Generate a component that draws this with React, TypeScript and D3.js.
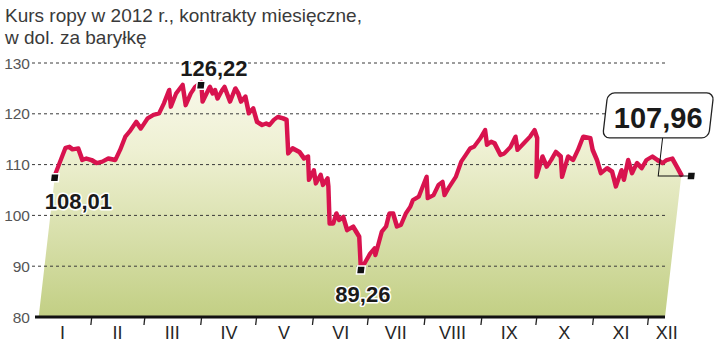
import React from 'react';
import * as d3 from 'd3';

// Brent monthly contract, 2012 (USD per barrel); day = days after 1 Jan 2012
const dayOfYear = [2,6,8,10,13,16,18,21,24,27,30,34,36,38,40,43,46,49,52,55,57,59,61,63,66,69,71,73,76,78,81,83,84,86,88,89,93,95,97,99,101,104,106,109,112,114,116,118,120,123,125,128,130,134,137,139,141,143,145,147,149,151,152,155,157,158,160,162,165,168,170,172,175,177,179,181,182,184,186,187,189,192,194,196,198,199,202,203,205,207,210,212,214,216,218,221,223,225,227,229,232,234,236,238,240,244,246,249,251,253,256,259,261,263,265,267,270,272,274,277,279,281,284,286,288,292,294,297,300,303,306,309,311,313,314,317,319,322,324,327,330,333,335,338,341,344];
const price = [108.01,113.3,113.5,113.0,113.2,110.9,111.2,110.9,110.3,110.6,111.2,110.9,112.9,115.5,116.5,118.4,117.1,119.1,119.8,120.1,122.1,124.7,121.4,124.0,125.7,121.7,124.0,125.3,126.22,122.4,125.3,124.0,124.7,123.0,124.7,125.3,122.4,125.0,124.0,122.4,123.4,120.1,121.1,118.4,117.8,118.1,117.8,118.8,119.4,119.1,118.8,112.2,113.2,112.5,111.2,111.6,107.0,108.9,106.3,108.0,106.0,107.3,105.7,98.4,98.4,100.4,99.1,99.7,97.1,97.8,96.8,95.8,89.26,90.9,92.5,93.5,92.2,96.8,97.8,100.4,100.4,97.8,98.1,100.4,101.7,103.0,103.7,105.0,107.6,103.4,104.0,106.0,106.6,104.0,105.6,107.6,110.6,111.9,113.2,113.5,115.2,116.8,113.9,114.5,114.2,111.9,112.2,113.5,115.5,112.9,114.2,115.5,116.8,115.2,107.6,111.6,109.6,110.9,112.5,111.6,107.6,111.6,110.9,112.9,115.5,115.2,112.9,110.9,108.3,109.3,108.6,105.7,108.9,107.0,110.9,108.3,110.3,109.3,110.9,111.6,110.9,110.3,110.9,111.2,109.6,107.96];

const yTicks = [80, 90, 100, 110, 120, 130];
const monthLabels = ['I','II','III','IV','V','VI','VII','VIII','IX','X','XI','XII'];
const monthLabelDay = [15, 45, 75, 106, 136, 167, 197, 228, 259, 289, 320, 345];
const monthStartDay = [31, 60, 91, 121, 152, 182, 213, 244, 274, 305, 335];

const titleLines = ['Kurs ropy w 2012 r., kontrakty miesięczne,', 'w dol. za baryłkę'];

// annotated points: first, max, min, last
const annotDay = [2, 76, 175, 344];
const annotValue = [108.01, 126.22, 89.26, 107.96];
const annotText = ['108,01', '126,22', '89,26', '107,96'];

const W = 720, H = 357;
const X0 = 35, X1 = 665;
const Y0 = 317, Y1 = 63;
const K = 0.115; // skew factor
const skewDeg = -Math.atan(K) * 180 / Math.PI;
const skx = (x: number, y: number) => x + (Y0 - y) * K;

const dateOf = (d: number) => new Date(2012, 0, 1 + d);

export default function App() {
  const x = d3.scaleTime().domain([dateOf(0), dateOf(344)]).range([X0, X1]);
  const y = d3.scaleLinear().domain([80, 130]).range([Y0, Y1]);
  const data = dayOfYear.map((d, i) => ({ date: dateOf(d), value: price[i] }));

  const area = d3.area<{ date: Date; value: number }>()
    .x(d => x(d.date)).y0(y(80)).y1(d => y(d.value));
  const line = d3.line<{ date: Date; value: number }>()
    .x(d => x(d.date)).y(d => y(d.value));

  const skewT = `translate(0,${Y0}) skewX(${skewDeg}) translate(0,${-Y0})`;

  // marker offsets (px) relative to data point, in unskewed space
  const markerOff = [[0, 3], [0, 3], [0, 0], [10, 1]];
  const labelOff = [[-10, 31, 'start'], [13, -9, 'middle'], [2, 32, 'middle']] as const;

  const markers = annotDay.map((d, i) => ({
    mx: x(dateOf(d)) + markerOff[i][0],
    my: y(annotValue[i]) + markerOff[i][1],
  }));

  const font = '"Liberation Sans", Arial, sans-serif';
  const last = markers[3];
  const boxL = last.mx - 93, boxR = last.mx + 13, boxT = last.my - 83, boxB = last.my - 38;
  const leadX = last.mx - 33;

  return (
    <svg width={W} height={H} style={{ position: 'absolute', left: 0, top: 0, background: '#fff' }}
      fontFamily={font}>
      <defs>
        <linearGradient id="fillGrad" gradientUnits="userSpaceOnUse" x1="0" y1={Y1} x2="0" y2={Y0}>
          <stop offset="0" stopColor="#fbfaf0" />
          <stop offset="0.35" stopColor="#eef0d2" />
          <stop offset="1" stopColor="#c2cf84" />
        </linearGradient>
      </defs>

      {titleLines.map((t, i) => (
        <text key={i} x={5} y={22 + i * 22} fontSize={19} fill="#3a3a3a">{t}</text>
      ))}

      <g transform={skewT}>
        <path d={area(data) || ''} fill="url(#fillGrad)" />
      </g>

      {yTicks.filter(v => v !== 80).map(v => (
        <line key={v} x1={32} x2={X1} y1={y(v)} y2={y(v)} stroke="#3a3a3a"
          strokeWidth={1} strokeDasharray="3,3" />
      ))}
      {yTicks.map(v => (
        <text key={v} x={30} y={y(v) + 5.5} fontSize={15.5} fill="#555" textAnchor="end">{v}</text>
      ))}

      <line x1={X0} x2={X1} y1={Y0} y2={Y0} stroke="#111" strokeWidth={3} />

      <g transform={skewT}>
        {monthStartDay.map(d => (
          <line key={d} x1={x(dateOf(d))} x2={x(dateOf(d))} y1={Y0 + 1} y2={Y0 + 8}
            stroke="#222" strokeWidth={1.3} />
        ))}
        <path d={line(data) || ''} fill="none" stroke="#d8134e" strokeWidth={4.4}
          strokeLinejoin="round" strokeLinecap="round" />
        {markers.map((m, i) => (
          <rect key={i} x={m.mx - 4} y={m.my - 4} width={8} height={8} fill="#111"
            stroke="#fff" strokeWidth={1.5} />
        ))}
        <path d={`M${leadX},${boxB} L${leadX},${last.my} L${last.mx - 3},${last.my}`}
          fill="none" stroke="#111" strokeWidth={1} />
        <rect x={boxL} y={boxT} width={boxR - boxL} height={boxB - boxT} rx={7} ry={7}
          fill="#fff" stroke="#222" strokeWidth={1.3} />
      </g>

      {monthLabels.map((m, i) => (
        <text key={m} x={x(dateOf(monthLabelDay[i]))} y={339} fontSize={18} fill="#262626"
          textAnchor="middle">{m}</text>
      ))}

      {markers.slice(0, 3).map((m, i) => (
        <text key={i} x={skx(m.mx, m.my) + labelOff[i][0]} y={m.my + labelOff[i][1]}
          fontSize={22} fontWeight="bold" fill="#1a1a1a" textAnchor={labelOff[i][2]}
          stroke="#fff" strokeWidth={3} paintOrder="stroke" strokeLinejoin="round">
          {annotText[i]}
        </text>
      ))}
      <text x={skx((boxL + boxR) / 2, (boxT + boxB) / 2)} y={boxB - 10} fontSize={29}
        fontWeight="bold" fill="#1a1a1a" textAnchor="middle">{annotText[3]}</text>
    </svg>
  );
}
